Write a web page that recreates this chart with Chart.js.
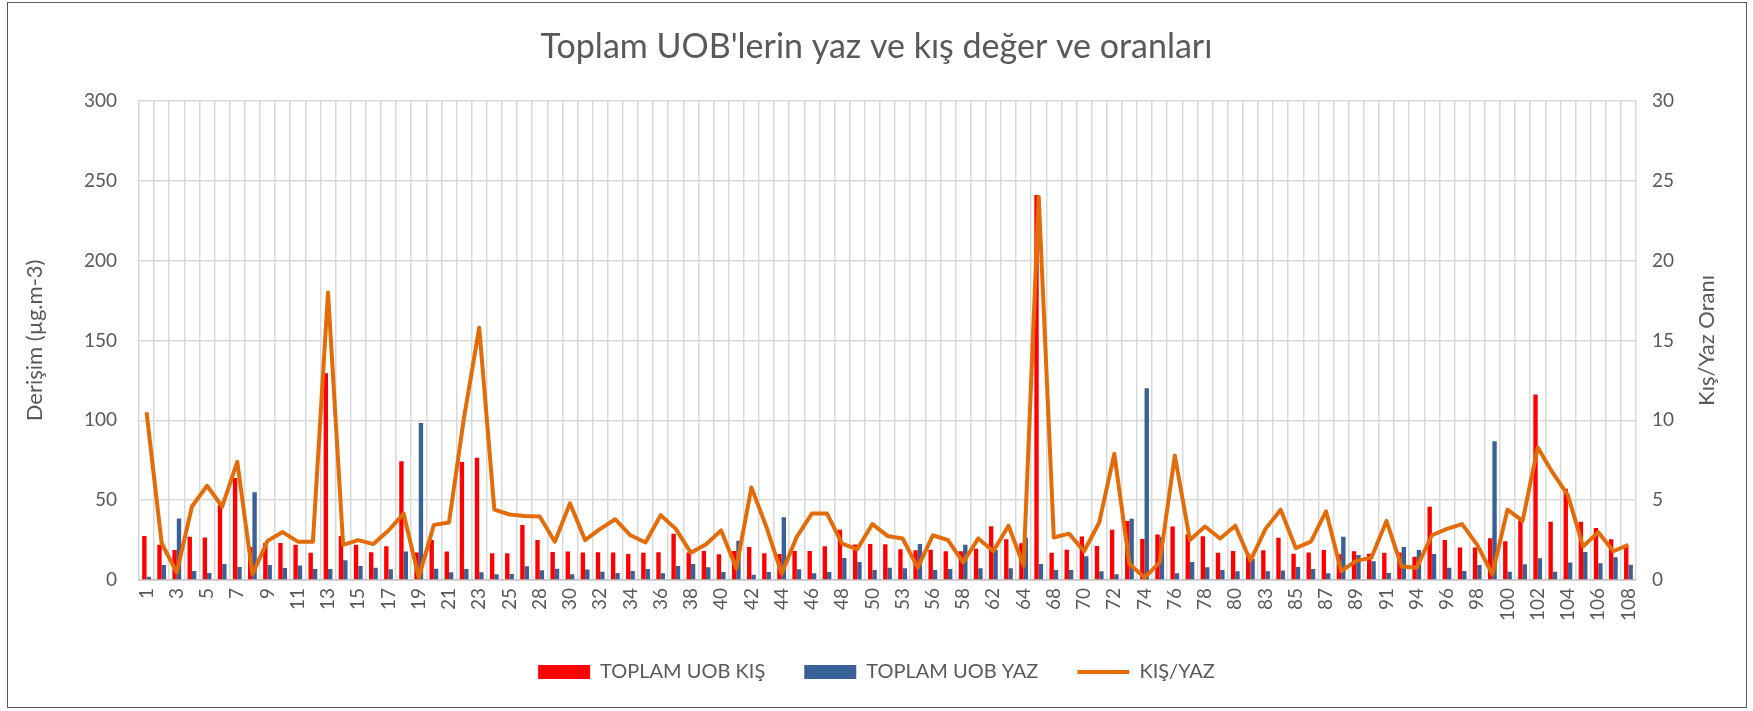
<!DOCTYPE html>
<html>
<head>
<meta charset="utf-8">
<title>Toplam UOB</title>
<script src="https://cdn.jsdelivr.net/npm/chart.js@4.4.1/dist/chart.umd.min.js"></script>
<style>
  html, body { margin: 0; padding: 0; background: #fff; }
  #wrap { width: 1753px; height: 711px; position: relative; }
</style>
</head>
<body>
<div id="wrap"><canvas id="uobChart"></canvas></div>
<script>
// ---------- data ----------
const stations = [
  1, 2, 3, 4, 5, 6, 7, 8, 9, 10, 11, 12, 13, 14, 15, 16, 17, 18, 19, 20, 21, 22, 23, 24, 25,
  26, 28, 29, 30, 31, 32, 33, 34, 35, 36, 37, 38, 39, 40, 41, 42, 43, 44, 45, 46, 47, 48, 49, 50,
  51, 53, 54, 56, 57, 58, 60, 62, 63, 64, 66,
  68, 69, 70, 71, 72, 73, 74, 75, 76, 77, 78, 79, 80, 81,
  83, 84, 85, 86, 87, 88, 89, 90, 91, 92,
  94, 95, 96, 97, 98, 99, 100, 101, 102, 103, 104, 105, 106, 107, 108
];

const kisValues = [
  27.6, 22, 18.8, 27, 26.6, 47, 63.8, 20.7, 23.2, 23.2, 22, 17, 129.5, 27.6, 22, 17.4, 21.1, 74.3, 17.2, 25.1, 17.8, 73.8, 76.6, 16.7, 16.7,
  34.5, 25.1, 17.6, 17.8, 17.2, 17.4, 17.2, 16.3, 17, 17.4, 29, 17.2, 18.2, 16.1, 18.2, 20.7, 16.7, 16.3, 18.2, 18.2, 21.1, 31.4, 22.2, 22.6,
  22.4, 19.2, 18.6, 19, 18, 18, 19.5, 33.7, 25.5, 23, 241,
  17, 19, 27.2, 21.3, 31.4, 37, 25.7, 28.5, 33.5, 28.7, 27.4, 17, 18.2, 16.5,
  18.6, 26.4, 16.5, 17.2, 18.8, 16.1, 18, 16.5, 17, 17.2,
  14.6, 45.8, 25.1, 20.3, 20.3, 26.2, 24.3, 37.4, 116.1, 36.4, 57.1, 36.4, 32.6, 25.5, 21.1
];

const yazValues = [
  2, 9.4, 38.5, 5.6, 4.4, 10, 8.2, 55, 9.4, 7.5, 9, 6.9, 6.9, 12.3, 8.8, 7.7, 6.7, 17.8, 98.3, 7.1, 4.8, 6.9, 4.8, 3.6, 3.8,
  8.6, 6.1, 7.1, 3.6, 6.5, 5.2, 4.4, 5.6, 6.9, 4.2, 8.8, 10, 8, 5, 24.5, 3.3, 5, 39.3, 6.7, 4.2, 5, 13.8, 11.3, 6.3,
  7.7, 7.3, 22.6, 6.3, 6.9, 22, 7.3, 18.8, 7.3, 26.4, 10,
  6.3, 6.3, 14.9, 5.4, 3.6, 38.3, 120, 27, 4.2, 11.3, 8, 6.3, 5.4, 13.2,
  5.4, 5.9, 8.2, 6.9, 4.2, 27, 15.7, 11.7, 4.4, 20.7,
  18.8, 16.3, 7.7, 5.6, 9.4, 86.8, 5.2, 9.8, 13.6, 5.2, 10.9, 17.6, 10.5, 14.2, 9.6
];

const ratioValues = [
  10.5, 2.3, 0.46, 4.6, 5.9, 4.6, 7.4, 0.36, 2.45, 3.0, 2.4, 2.4, 18.0, 2.2, 2.5, 2.25, 3.1, 4.16, 0.15, 3.45, 3.6, 10.2, 15.8, 4.4, 4.1,
  4.0, 3.97, 2.4, 4.8, 2.5, 3.2, 3.8, 2.8, 2.35, 4.06, 3.2, 1.7, 2.24, 3.1, 0.73, 5.8, 3.3, 0.4, 2.7, 4.16, 4.16, 2.28, 1.92, 3.5,
  2.76, 2.6, 0.77, 2.8, 2.5, 1.1, 2.6, 1.8, 3.4, 0.9, 24.0,
  2.66, 2.9, 1.8, 3.6, 7.9, 1.0, 0.15, 1.1, 7.8, 2.5, 3.35, 2.6, 3.4, 1.2,
  3.2, 4.4, 2.0, 2.4, 4.3, 0.56, 1.2, 1.4, 3.7, 0.84,
  0.77, 2.8, 3.2, 3.5, 2.2, 0.36, 4.4, 3.7, 8.3, 6.7, 5.3, 2.1, 3.0, 1.8, 2.2
];

const leftTicks = [0, 50, 100, 150, 200, 250, 300];
const rightTicks = [0, 5, 10, 15, 20, 25, 30];

// ---------- look ----------
const TEXT = "#595959";
const GRID = "#d9d9d9";
const FONT = "Lato, 'Open Sans', sans-serif";
Chart.defaults.font.family = FONT;
Chart.defaults.color = TEXT;

// frame round the chart + right axis title (bottom-to-top like Excel)
const framePlugin = {
  id: "frame",
  beforeDraw(chart) {
    const ctx = chart.ctx;
    ctx.save();
    ctx.fillStyle = "#fff";
    ctx.fillRect(0, 0, chart.width, chart.height);
    ctx.strokeStyle = "#595959";
    ctx.lineWidth = 1;
    ctx.strokeRect(7.5, 2.5, 1739, 705);
    ctx.restore();
  },
  afterDraw(chart) {
    const ctx = chart.ctx;
    const area = chart.chartArea;
    ctx.save();
    ctx.translate(1707, (area.top + area.bottom) / 2);
    ctx.rotate(-Math.PI / 2);
    ctx.fillStyle = TEXT;
    ctx.font = "22px " + FONT;
    ctx.textAlign = "center";
    ctx.textBaseline = "middle";
    ctx.fillText("Kış/Yaz Oranı", 0, 0);
    ctx.restore();
  }
};

const ctx = document.getElementById("uobChart").getContext("2d");
new Chart(ctx, {
  type: "bar",
  data: {
    labels: stations.map(String),
    datasets: [
      {
        label: "TOPLAM UOB KIŞ",
        data: kisValues,
        backgroundColor: "#ff0000",
        borderWidth: 0,
        yAxisID: "y",
        order: 1,
        barPercentage: 1,
        categoryPercentage: 0.58
      },
      {
        label: "TOPLAM UOB YAZ",
        data: yazValues,
        backgroundColor: "#3a6195",
        borderWidth: 0,
        yAxisID: "y",
        order: 1,
        barPercentage: 1,
        categoryPercentage: 0.58
      },
      {
        type: "line",
        label: "KIŞ/YAZ",
        data: ratioValues,
        borderColor: "#e36c09",
        backgroundColor: "#e36c09",
        borderWidth: 4,
        borderJoinStyle: "round",
        pointRadius: 0,
        tension: 0,
        yAxisID: "y2",
        order: 0
      }
    ]
  },
  options: {
    responsive: true,
    maintainAspectRatio: false,
    animation: false,
    devicePixelRatio: 1,
    layout: { padding: { left: 0, right: 0, top: 0, bottom: 19 } },
    plugins: {
      title: {
        display: true,
        text: "Toplam UOB'lerin yaz ve kış değer ve oranları",
        color: TEXT,
        font: { size: 34, weight: "normal" },
        padding: { top: 27, bottom: 33 }
      },
      legend: {
        position: "bottom",
        labels: {
          usePointStyle: true,
          pointStyleWidth: 52,
          boxHeight: 14,
          padding: 39,
          color: TEXT,
          font: { size: 20 },
          sort: (a, b) => a.datasetIndex - b.datasetIndex,
          generateLabels: (chart) => {
            const items = Chart.defaults.plugins.legend.labels.generateLabels(chart);
            items.forEach((item) => {
              item.pointStyle = item.datasetIndex === 2 ? "line" : "rect";
            });
            return items;
          }
        }
      },
      tooltip: { enabled: false }
    },
    scales: {
      x: {
        offset: true,
        grid: { offset: true, color: GRID, lineWidth: 1.5, drawTicks: false },
        border: { color: "#bfbfbf", width: 1.5 },
        ticks: {
          autoSkip: false,
          minRotation: 90,
          maxRotation: 90,
          padding: 8,
          color: TEXT,
          font: { size: 19 },
          callback: function (val, index) {
            return index % 2 === 0 ? this.getLabelForValue(val) : "";
          }
        },
        afterFit: (s) => { s.height = 43; }
      },
      y: {
        position: "left",
        min: leftTicks[0],
        max: leftTicks[leftTicks.length - 1],
        afterBuildTicks: (s) => { s.ticks = leftTicks.map((v) => ({ value: v })); },
        grid: { color: GRID, lineWidth: 1.5, drawTicks: false },
        border: { display: false },
        ticks: { padding: 22, color: TEXT, font: { size: 19 } },
        title: {
          display: true,
          text: "Derişim (µg.m-3)",
          color: TEXT,
          font: { size: 22 },
          padding: { top: 22 }
        },
        afterFit: (s) => { s.width = 139; }
      },
      y2: {
        position: "right",
        min: rightTicks[0],
        max: rightTicks[rightTicks.length - 1],
        afterBuildTicks: (s) => { s.ticks = rightTicks.map((v) => ({ value: v })); },
        grid: { drawOnChartArea: false, drawTicks: false },
        border: { display: false },
        ticks: { padding: 16, color: TEXT, font: { size: 19 } },
        afterFit: (s) => { s.width = 117; }
      }
    }
  },
  plugins: [framePlugin]
});
</script>
</body>
</html>
